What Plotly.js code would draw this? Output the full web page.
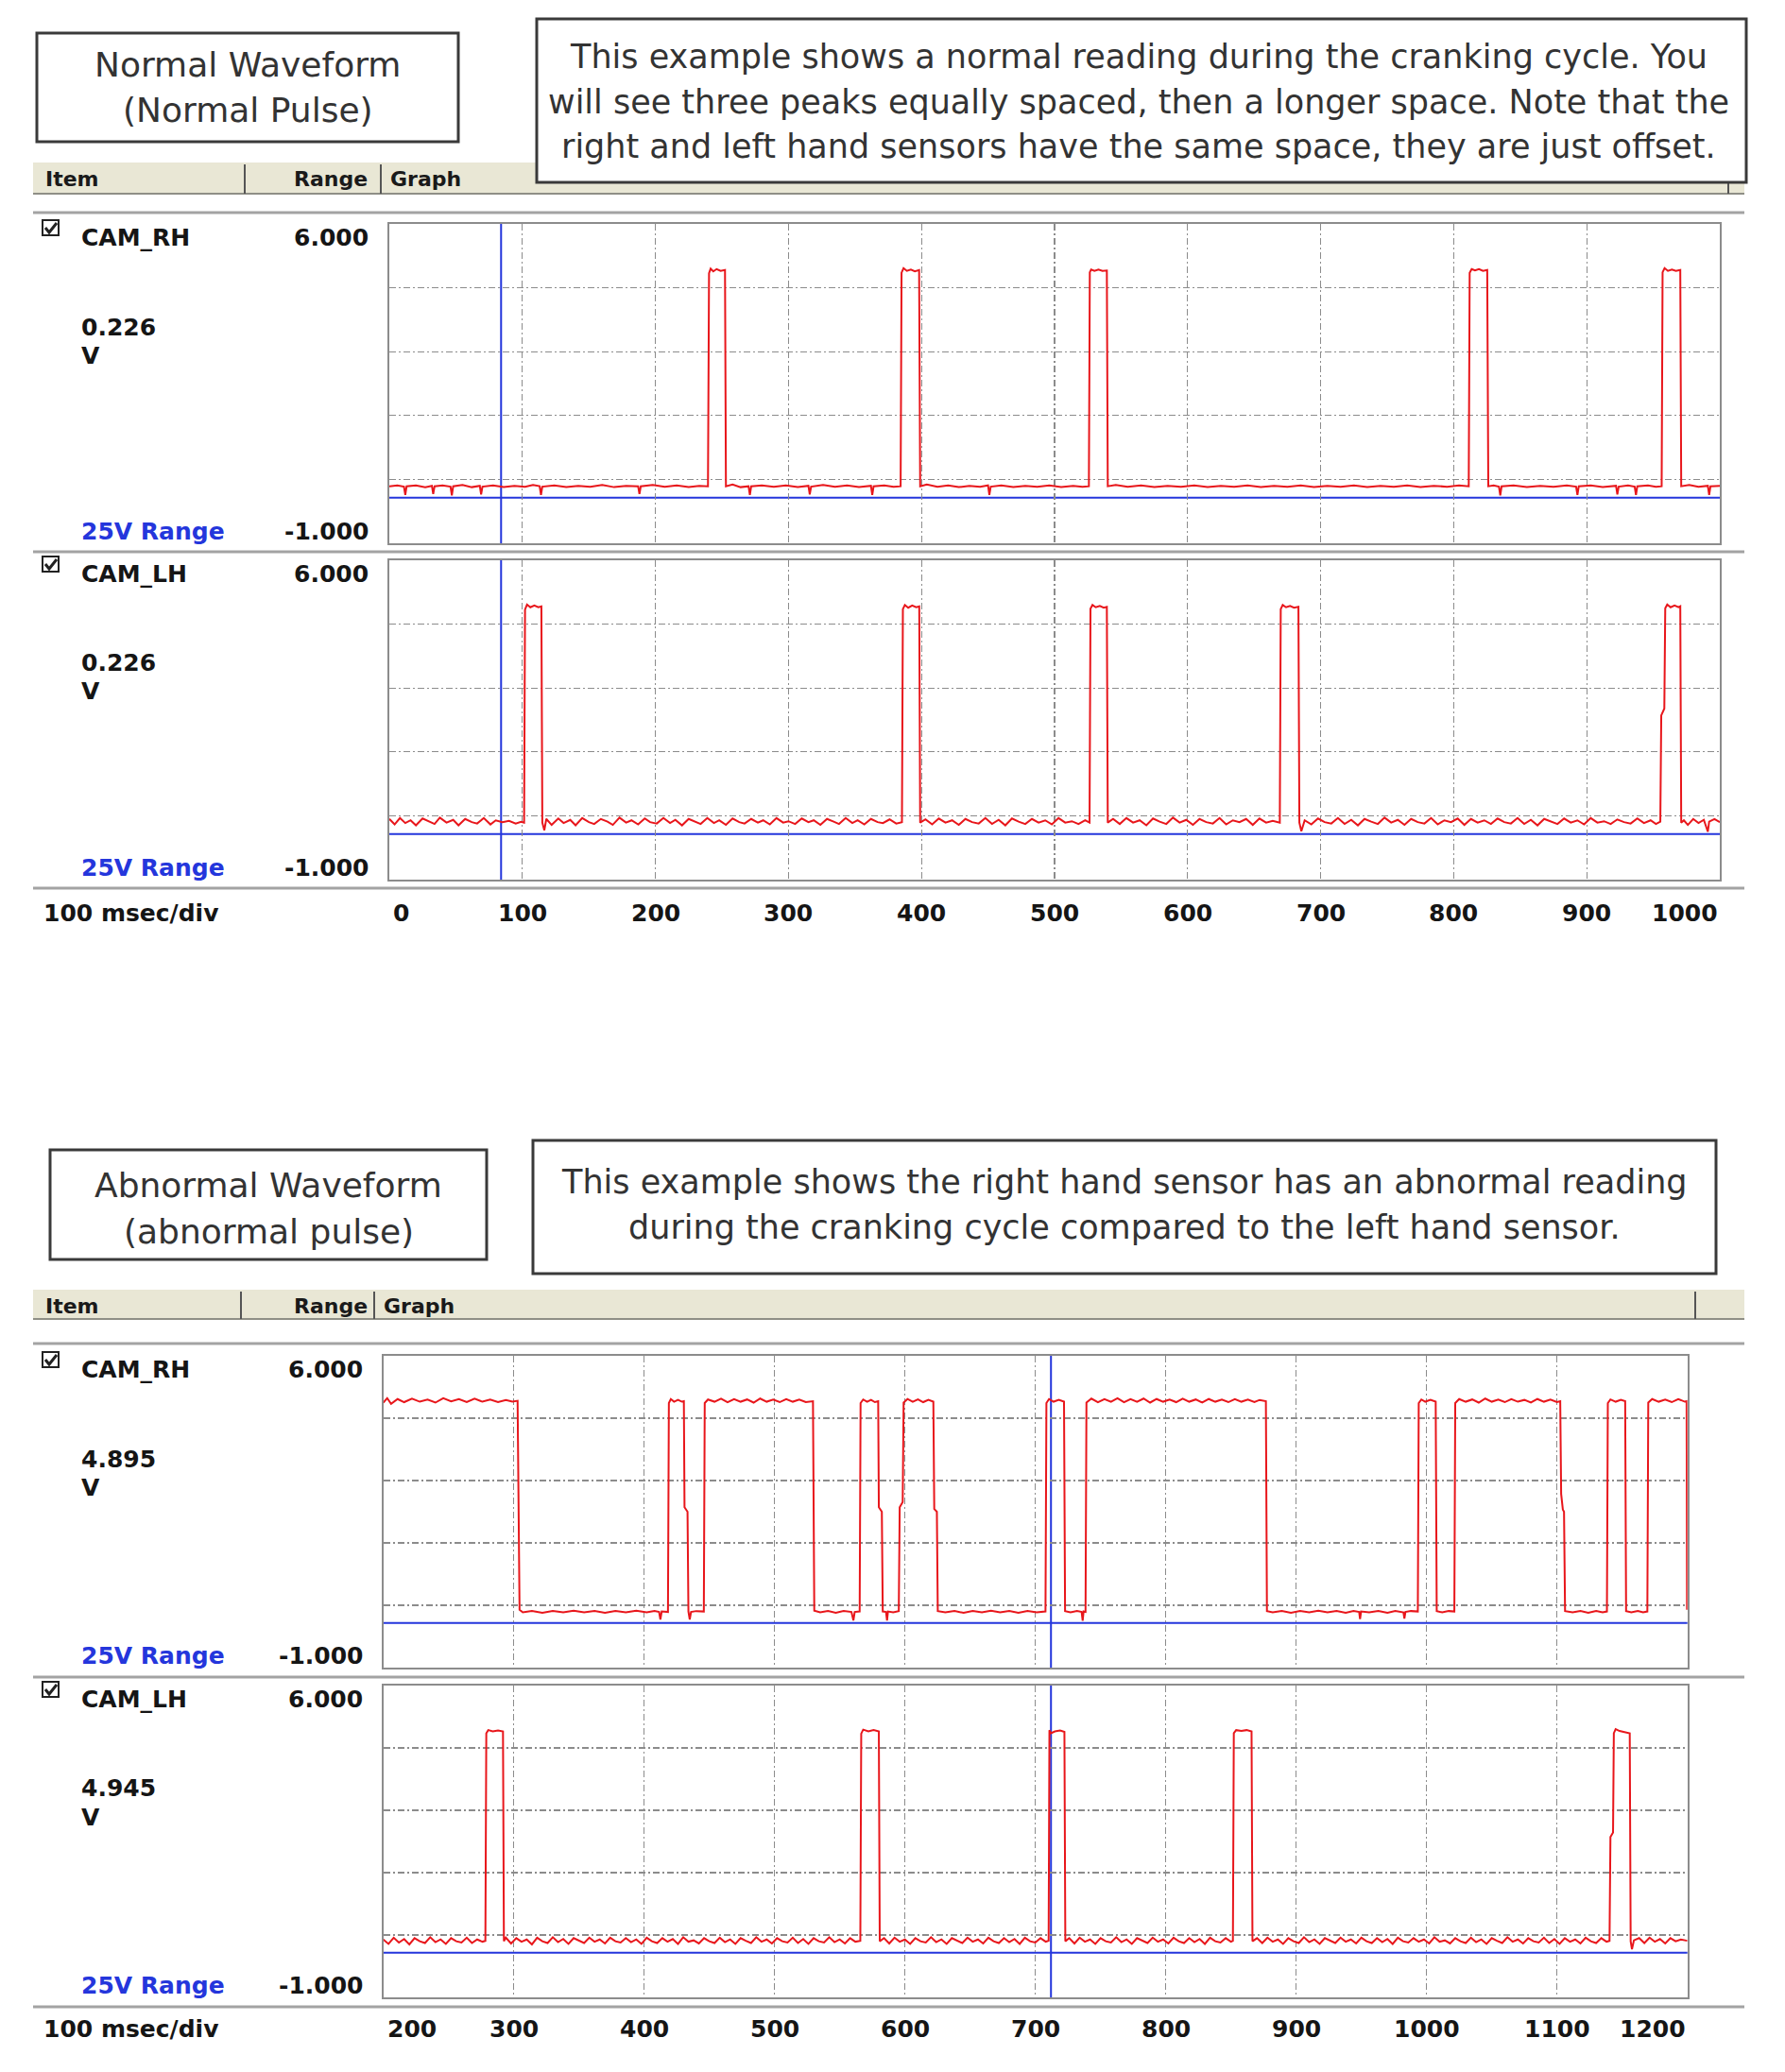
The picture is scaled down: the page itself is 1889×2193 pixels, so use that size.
<!DOCTYPE html>
<html><head><meta charset="utf-8">
<script src="https://cdn.plot.ly/plotly-3.0.1.min.js"></script>
<style>html,body{margin:0;padding:0;background:#fff}#chart{width:1889px;height:2193px}</style>
</head><body><div id="chart"></div>
<script>
// ---------------- DATA ----------------
const normalTicks = [0,100,200,300,400,500,600,700,800,900,1000];
const abnormalTicks = [200,300,400,500,600,700,800,900,1000,1100,1200];
const yRange = [-1, 6];
const yGrid = [0.4, 1.8, 3.2, 4.6];
const cursorNormal = 84;
const cursorAbnormal = 712;
const readings = ['0.226', '0.226', '4.895', '4.945'];
const sensorNames = ['CAM_RH', 'CAM_LH', 'CAM_RH', 'CAM_LH'];
const rangeLabel = '25V Range';
const timeBase = '100 msec/div';
const headerCols = ['Item', 'Range', 'Graph'];
const normalTitle = ['Normal Waveform', '(Normal Pulse)'];
const normalNote = ['This example shows a normal reading during the cranking cycle. You',
  'will see three peaks equally spaced, then a longer space. Note that the',
  'right and left hand sensors have the same space, they are just offset.'];
const abnormalTitle = ['Abnormal Waveform', '(abnormal pulse)'];
const abnormalNote = ['This example shows the right hand sensor has an abnormal reading',
  'during the cranking cycle compared to the left hand sensor.'];

// [time ms, volts]
const rhNormal = [[0,.25],[6,.27],[11,.24],[12,.06],[13,.25],[20,.27],[27,.23],[32,.26],[33,.08],[34,.25],[40,.27],[46,.24],[47,.05],[48,.25],[55,.28],[62,.23],[68,.26],[69,.07],[70,.24],[78,.27],[86,.23],[94,.26],[102,.24],[108,.28],[113,.25],[114,.06],[115,.24],[124,.27],[133,.23],[142,.26],[151,.24],[160,.28],[169,.23],[178,.26],[187,.25],[188,.08],[189,.25],[198,.28],[207,.24],[216,.27],[225,.23],[233,.26],[239.5,.25],
[240.3,4.92],[241.5,5.02],[243.5,4.96],[246,5.01],[249,4.97],[252.3,4.99],[253,.25],
[258,.29],[264,.23],[270,.25],[271,.06],[272,.25],[280,.27],[289,.24],[298,.27],[307,.23],[315,.26],[316,.07],[317,.24],[326,.28],[335,.24],[344,.27],[353,.23],[362,.26],[363,.06],[364,.25],[372,.27],[379,.24],[384.3,.25],
[385,4.93],[386.5,5.03],[389,4.97],[392,5.0],[395,4.96],[398.2,4.99],[399,.25],
[404,.29],[412,.24],[420,.27],[428,.23],[436,.26],[444,.24],[450,.27],[451,.06],[452,.24],[460,.27],[469,.23],[478,.26],[487,.24],[496,.27],[505,.23],[514,.26],[521,.24],[525.8,.25],
[526.5,4.94],[527.5,5.0],[530,4.97],[533,5.0],[536,4.97],[539.3,4.98],[540,.25],
[546,.28],[555,.24],[565,.27],[575,.23],[585,.26],[595,.24],[605,.27],[615,.23],[625,.26],[635,.24],[645,.27],[655,.23],[665,.26],[675,.24],[685,.27],[695,.23],[705,.26],[715,.24],[725,.27],[735,.23],[745,.26],[755,.24],[765,.27],[775,.23],[785,.26],[795,.24],[804,.27],[811.3,.25],
[812,4.93],[813.5,5.01],[816,4.98],[819,5.01],[822,4.97],[825.2,4.99],[826,.25],
[830,.27],[834,.24],[835,.05],[836,.25],[845,.27],[855,.23],[865,.26],[875,.24],[885,.27],[892,.24],[893,.06],[894,.25],[903,.27],[912,.23],[922,.26],[923,.07],[924,.24],[931,.27],[936,.24],[937,.06],[938,.25],[946,.27],[952,.24],[956.3,.25],
[957,4.94],[958.5,5.03],[961,4.97],[964,5.0],[967,4.97],[970.3,4.99],[971,.25],
[977,.28],[984,.24],[991,.26],[992,.06],[993,.25],[1000,.26]];

const lhNormal = [[0,.33],[4,.21],[8,.35],[12,.24],[16,.3],[20,.19],[25,.34],[30,.27],[34,.22],[38,.36],[43,.25],[48,.31],[52,.19],[57,.33],[62,.26],[66,.23],[71,.35],[76,.21],[80,.3],[85,.26],[90,.29],[95,.23],[99,.27],[101.3,.25],
[102,4.92],[103.5,5.03],[106,4.97],[109,5.01],[112,4.97],[114.3,4.99],[115,.25],
[116.5,.08],[118,.33],[122,.2],[127,.34],[131,.24],[136,.31],[140,.19],[145,.35],[150,.26],[154,.22],[159,.33],[164,.27],[168,.2],[173,.36],[178,.25],[182,.3],[187,.21],[192,.34],[196,.26],[201,.23],[206,.35],[211,.24],[215,.31],[220,.19],[225,.33],[230,.27],[234,.22],[239,.35],[244,.24],[248,.3],[253,.2],[258,.34],[263,.26],[267,.23],[272,.33],[277,.25],[281,.3],[286,.21],[291,.35],[296,.25],[300,.28],[305,.22],[310,.34],[315,.26],[319,.3],[324,.2],[329,.33],[334,.27],[338,.22],[343,.35],[348,.24],[352,.3],[357,.21],[362,.33],[367,.26],[371,.24],[376,.32],[381,.23],[385.3,.26],
[386,4.93],[387.5,5.02],[390,4.96],[393,5.01],[396,4.97],[398.3,4.99],[399,.25],
[403,.32],[408,.21],[413,.34],[418,.25],[423,.3],[428,.2],[433,.33],[438,.26],[443,.23],[448,.35],[453,.22],[458,.31],[463,.19],[468,.34],[473,.27],[478,.22],[483,.33],[488,.25],[493,.3],[498,.21],[503,.35],[508,.25],[513,.28],[518,.22],[523,.3],[526.3,.25],
[527,4.94],[528.5,5.02],[531,4.97],[534,5.0],[537,4.96],[539.3,4.98],[540,.25],
[544,.33],[549,.22],[554,.35],[559,.25],[564,.3],[569,.19],[574,.34],[579,.27],[584,.22],[589,.36],[594,.25],[599,.31],[604,.2],[609,.33],[614,.26],[619,.23],[624,.35],[629,.21],[634,.3],[639,.26],[644,.33],[649,.2],[654,.34],[659,.25],[664,.29],[669.3,.25],
[670,4.93],[671.5,5.02],[674,4.97],[677,5.0],[680,4.96],[683.3,4.98],[684,.25],
[685.5,.06],[688,.3],[693,.21],[698,.34],[703,.26],[708,.23],[713,.35],[718,.22],[723,.31],[728,.19],[733,.33],[738,.27],[743,.22],[748,.36],[753,.25],[758,.31],[763,.2],[768,.33],[773,.26],[778,.23],[783,.35],[788,.21],[793,.3],[798,.26],[803,.34],[808,.2],[813,.33],[818,.25],[823,.3],[828,.22],[833,.34],[838,.26],[843,.23],[848,.35],[853,.22],[858,.31],[863,.19],[868,.33],[873,.27],[878,.22],[883,.34],[888,.25],[893,.3],[898,.21],[903,.35],[908,.25],[913,.28],[918,.22],[923,.32],[928,.26],[933,.23],[938,.34],[943,.24],[948,.3],[952,.22],[955.3,.27],
[956,2.6],[958.3,2.75],[959,4.95],[960.5,5.03],[963,4.97],[966,5.01],[969,4.97],[970.3,4.99],[971,.25],
[973,.3],[976,.2],[980,.33],[984,.24],[988,.31],[991,.05],[992,.27],[996,.33],[1000,.26]];

const rhAbnormal = [[200,4.95],[203,5.05],[206,4.92],[211,5.03],[216,4.96],[222,5.04],[228,4.97],[234,5.02],[240,4.95],[246,5.05],[252,4.98],[258,5.03],[264,4.96],[270,5.04],[276,4.97],[282,5.02],[288,4.96],[294,5.01],[299,4.97],[303,4.99],
[304.5,.3],[307,.24],[314,.27],[322,.23],[330,.27],[338,.24],[346,.28],[354,.24],[362,.27],[370,.23],[378,.27],[386,.24],[394,.28],[402,.24],[408,.27],[411.5,.25],[412.5,.08],[413.5,.26],[418.3,.25],
[419,4.94],[420.5,5.03],[423,4.97],[426,5.01],[429,4.97],[430.5,4.98],
[431,2.6],[433.3,2.5],[434,.26],[435,.08],[436,.25],[440,.27],[445.8,.26],
[446.5,4.94],[449,5.02],[454,4.97],[459,5.04],[464,4.96],[469,5.03],[474,4.97],[479,5.02],[484,4.95],[489,5.04],[494,4.97],[499,5.02],[504,4.96],[509,5.03],[514,4.97],[519,5.02],[524,4.96],[529.5,4.98],
[530.5,.28],[535,.24],[541,.27],[547,.23],[553,.27],[559,.25],[560.5,.06],[561.5,.25],[565.3,.26],
[566,4.94],[568,5.02],[571,4.97],[574,5.01],[577,4.96],[579.5,4.98],
[580,2.6],[582.3,2.5],[583,.26],[585.5,.25],[586.3,.06],[587,.26],[591,.24],[595.3,.27],
[596,2.6],[598.3,2.72],[599,4.95],[602,5.03],[606,4.97],[610,5.02],[614,4.96],[618,5.01],[621.8,4.97],
[622.5,2.56],[624.5,2.5],[625.2,.27],[631,.24],[638,.27],[645,.23],[652,.27],[659,.24],[666,.28],[673,.24],[680,.27],[687,.23],[694,.27],[701,.24],[707.8,.26],
[708.5,4.94],[710.5,5.03],[714,4.97],[718,5.01],[722,4.97],
[722.8,.27],[727,.24],[732,.27],[735.5,.25],[736.3,.05],[737,.26],[738.5,.25],
[739.2,4.95],[743,5.04],[748,4.96],[753,5.03],[758,4.97],[763,5.05],[768,4.96],[773,5.03],[778,4.97],[783,5.04],[788,4.95],[793,5.03],[798,4.97],[803,5.02],[808,4.96],[813,5.04],[818,4.97],[823,5.02],[828,4.95],[833,5.03],[838,4.97],[843,5.02],[848,4.96],[853,5.03],[858,4.97],[863,5.02],[868,4.96],[872,5.01],[876.8,4.98],
[877.6,.27],[882,.24],[889,.27],[896,.23],[903,.27],[910,.24],[917,.28],[924,.24],[931,.27],[938,.23],[944,.27],[948.3,.25],[949,.09],[949.8,.26],[956,.24],[963,.27],[970,.23],[976,.27],[982.3,.24],[983,.1],[983.8,.25],[988,.27],[993.3,.26],
[994,4.94],[996,5.02],[999,4.97],[1003,5.01],[1007,4.97],
[1007.8,.27],[1012,.24],[1017,.27],[1021.3,.26],
[1022,4.94],[1025,5.03],[1030,4.97],[1035,5.02],[1040,4.95],[1045,5.04],[1050,4.97],[1055,5.02],[1060,4.96],[1065,5.03],[1070,4.97],[1075,5.01],[1080,4.95],[1085,5.03],[1090,4.97],[1095,5.02],[1100,4.96],[1102.5,4.98],
[1103.2,2.9],[1104.5,2.55],[1105.4,2.5],[1106.2,.27],[1112,.24],[1118,.27],[1124,.23],[1130,.27],[1135,.24],[1138.3,.26],
[1139,4.94],[1141,5.02],[1145,4.97],[1149,5.01],[1152.3,4.98],
[1153,.27],[1157,.24],[1162,.27],[1166,.24],[1169.3,.26],
[1170,4.95],[1173,5.03],[1178,4.97],[1183,5.02],[1188,4.96],[1193,5.03],[1198,4.97],[1199.4,4.98],
[1199.7,.3]];

const lhAbnormal = [[200,.3],[204,.2],[208,.34],[212,.23],[216,.31],[220,.19],[224,.33],[228,.26],[232,.22],[236,.35],[240,.24],[244,.3],[248,.2],[252,.33],[256,.26],[260,.23],[264,.34],[268,.22],[272,.3],[276,.25],[278.3,.27],
[279,4.93],[280.5,5.0],[284,4.97],[288,4.99],[291.8,4.97],
[292.5,.26],[294,.34],[298,.21],[302,.33],[306,.25],[310,.3],[314,.19],[318,.34],[322,.26],[326,.22],[330,.35],[334,.24],[338,.31],[342,.2],[346,.33],[350,.27],[354,.22],[358,.34],[362,.25],[366,.3],[370,.21],[374,.34],[378,.26],[382,.23],[386,.33],[390,.24],[394,.3],[398,.2],[402,.34],[406,.26],[410,.22],[414,.33],[418,.25],[422,.31],[426,.2],[430,.35],[434,.25],[438,.28],[442,.21],[446,.33],[450,.26],[454,.22],[458,.34],[462,.24],[466,.3],[470,.2],[474,.33],[478,.27],[482,.22],[486,.35],[490,.25],[494,.3],[498,.21],[502,.33],[506,.26],[510,.23],[514,.34],[518,.22],[522,.31],[526,.2],[530,.33],[534,.26],[538,.23],[542,.35],[546,.24],[550,.3],[554,.21],[558,.33],[562,.25],[565.8,.27],
[566.5,4.92],[568,5.01],[572,4.97],[576,5.0],[580,4.97],
[580.7,.26],[584,.33],[588,.21],[592,.34],[596,.25],[600,.3],[604,.2],[608,.33],[612,.26],[616,.23],[620,.35],[624,.24],[628,.3],[632,.2],[636,.33],[640,.27],[644,.22],[648,.34],[652,.25],[656,.3],[660,.21],[664,.34],[668,.26],[672,.22],[676,.33],[680,.24],[684,.31],[688,.2],[692,.34],[696,.26],[700,.23],[704,.33],[708,.25],[710.2,.27],
[710.8,5.0],[712,4.93],[715,4.97],[719,4.99],[722.3,4.96],
[723,.26],[726,.33],[730,.21],[734,.34],[738,.25],[742,.3],[746,.2],[750,.33],[754,.26],[758,.23],[762,.35],[766,.24],[770,.3],[774,.2],[778,.33],[782,.27],[786,.22],[790,.34],[794,.25],[798,.3],[802,.21],[806,.34],[810,.26],[814,.22],[818,.33],[822,.24],[826,.31],[830,.2],[834,.34],[838,.26],[842,.23],[846,.33],[850,.25],[851.5,.27],
[852.2,4.93],[854,5.0],[858,4.98],[862,5.0],[865.8,4.97],
[866.5,.26],[870,.33],[874,.22],[878,.34],[882,.25],[886,.3],[890,.2],[894,.33],[898,.26],[902,.22],[906,.35],[910,.24],[914,.3],[918,.2],[922,.33],[926,.27],[930,.22],[934,.34],[938,.25],[942,.3],[946,.21],[950,.34],[954,.26],[958,.22],[962,.33],[966,.24],[970,.31],[974,.2],[978,.34],[982,.26],[986,.23],[990,.33],[994,.25],[998,.3],[1002,.21],[1006,.35],[1010,.25],[1014,.28],[1018,.21],[1022,.33],[1026,.26],[1030,.22],[1034,.34],[1038,.24],[1042,.3],[1046,.2],[1050,.33],[1054,.27],[1058,.22],[1062,.35],[1066,.25],[1070,.3],[1074,.21],[1078,.33],[1082,.26],[1086,.23],[1090,.34],[1094,.22],[1098,.31],[1102,.2],[1106,.33],[1110,.25],[1114,.3],[1118,.21],[1122,.34],[1126,.26],[1130,.22],[1134,.33],[1138,.25],[1140.3,.27],
[1141,2.6],[1143,2.7],[1143.6,4.93],[1145,5.02],[1148,4.98],[1151,4.96],[1154,4.94],[1155.8,4.93],
[1156.5,.26],[1157.5,.08],[1159,.28],[1163,.33],[1167,.22],[1171,.34],[1175,.25],[1179,.31],[1183,.21],[1187,.33],[1191,.26],[1195,.3],[1200,.27]];

// ---------------- LAYOUT HELPERS ----------------
const W = 1889, H = 2193;
const X = p => p / W;
const Y = p => 1 - p / H;
const RED = '#e8161b', BLUE = '#2436dc', GRID = '#8c8c8c', SEP = '#a3a3a3';
const descFont = {family: 'DejaVu Sans', size: 35, color: '#333333'};
const titleFont = {family: 'DejaVu Sans', size: 36, color: '#333333'};
const toolFont = {family: 'DejaVu Sans', size: 25, color: '#151515', weight: 700};
const headFont = {family: 'DejaVu Sans', size: 22, color: '#1a1a1a', weight: 700};

const panels = [
  {data: rhNormal,   top: 237,  bot: 575,  left: 412,   right: 1820,   xr: [0, 1000],   cursor: cursorNormal,   lblRight: 392},
  {data: lhNormal,   top: 593,  bot: 931,  left: 412,   right: 1820,   xr: [0, 1000],   cursor: cursorNormal,   lblRight: 392},
  {data: rhAbnormal, top: 1435, bot: 1765, left: 405.6, right: 1785.7, xr: [200, 1200], cursor: cursorAbnormal, lblRight: 386},
  {data: lhAbnormal, top: 1784, bot: 2114, left: 405.6, right: 1785.7, xr: [200, 1200], cursor: cursorAbnormal, lblRight: 386}
];

const traces = [];
const shapes = [];
const annotations = [];
const layout = {
  width: W, height: H, margin: {l: 0, r: 0, t: 0, b: 0},
  paper_bgcolor: '#ffffff', plot_bgcolor: '#ffffff', showlegend: false,
  shapes: shapes, annotations: annotations
};

function rectPx(x0, y0, x1, y1, fill, lineColor, lineWidth) {
  shapes.push({type: 'rect', xref: 'paper', yref: 'paper', x0: X(x0), x1: X(x1), y0: Y(y1), y1: Y(y0),
    fillcolor: fill, line: {color: lineColor || 'rgba(0,0,0,0)', width: lineWidth || 0}, layer: 'above'});
}
function linePx(x0, y0, x1, y1, color, width) {
  shapes.push({type: 'line', xref: 'paper', yref: 'paper', x0: X(x0), x1: X(x1), y0: Y(y0), y1: Y(y1),
    line: {color: color, width: width}, layer: 'above'});
}
function textPx(text, x, y, font, xanchor) {
  annotations.push({text: text, x: X(x), y: Y(y), xref: 'paper', yref: 'paper', showarrow: false,
    xanchor: xanchor || 'left', yanchor: 'middle', font: font});
}

panels.forEach((p, i) => {
  const n = i === 0 ? '' : String(i + 1);
  traces.push({
    type: 'scatter', mode: 'lines', x: p.data.map(d => d[0]), y: p.data.map(d => d[1]),
    xaxis: 'x' + n, yaxis: 'y' + n, line: {color: RED, width: 2}, hoverinfo: 'skip'
  });
  layout['xaxis' + n] = {
    domain: [X(p.left), X(p.right)], range: p.xr, anchor: 'y' + n,
    showline: true, mirror: true, linecolor: GRID, linewidth: 2,
    showgrid: true, gridcolor: GRID, gridwidth: 1.3, griddash: '7px,3px,2px,3px',
    tickmode: 'linear', tick0: p.xr[0], dtick: 100, showticklabels: false, ticks: '', zeroline: false
  };
  layout['yaxis' + n] = {
    domain: [Y(p.bot), Y(p.top)], range: yRange, anchor: 'x' + n,
    showline: true, mirror: true, linecolor: GRID, linewidth: 2,
    showgrid: true, gridcolor: GRID, gridwidth: 1.3, griddash: '7px,3px,2px,3px',
    tickmode: 'array', tickvals: yGrid, showticklabels: false, ticks: '', zeroline: false
  };
  // zero reference line and cursor
  shapes.push({type: 'line', xref: 'x' + n + ' domain', x0: 0, x1: 1, yref: 'y' + n, y0: 0, y1: 0,
    line: {color: BLUE, width: 2}, layer: 'below'});
  shapes.push({type: 'line', xref: 'x' + n, x0: p.cursor, x1: p.cursor, yref: 'y' + n + ' domain', y0: 0, y1: 1,
    line: {color: BLUE, width: 2}, layer: 'below'});
  // left column labels
  rectPx(45, p.top - 4, 62, p.top + 12, '#ffffff', '#222222', 2);
  shapes.push({type: 'path', xref: 'paper', yref: 'paper', layer: 'above',
    path: `M ${X(48)},${Y(p.top + 4)} L ${X(52)},${Y(p.top + 9)} L ${X(60)},${Y(p.top - 1)}`,
    line: {color: '#222222', width: 3}});
  textPx(sensorNames[i], 84, p.top + 14, toolFont);
  textPx(yRange[1].toFixed(3), p.lblRight, p.top + 14, toolFont, 'right');
  textPx(readings[i], 84, p.top + 109, toolFont);
  textPx('V', 84, p.top + 139, toolFont);
  textPx(rangeLabel, 84, p.bot - 13, Object.assign({}, toolFont, {color: BLUE}));
  textPx(yRange[0].toFixed(3), p.lblRight, p.bot - 13, toolFont, 'right');
});

// tick labels under the lower panel of each section
function tickLabels(ticks, axis, yPx) {
  ticks.forEach((t, k) => {
    annotations.push({text: String(t), x: t, xref: axis, y: Y(yPx), yref: 'paper', showarrow: false,
      xanchor: k === 0 ? 'left' : (k === ticks.length - 1 ? 'right' : 'center'),
      xshift: k === 0 ? 2 : 0, yanchor: 'middle', font: toolFont});
  });
}
tickLabels(normalTicks, 'x2', 966);
tickLabels(abnormalTicks, 'x4', 2147);
textPx(timeBase, 44, 966, toolFont);
textPx(timeBase, 44, 2147, toolFont);

// section chrome
function section(barTop, barBot, sep1, sep2, sep3, lines) {
  rectPx(35, barTop, 1846, barBot, '#e9e7d5');
  linePx(35, barBot - 1, 1846, barBot - 1, '#8f8f86', 2);
  [sep1, sep2, sep3].forEach(s => linePx(s, barTop + 2, s, barBot - 1, '#555555', 2));
  lines.forEach(y => linePx(35, y, 1846, y, SEP, 3));
  const mid = (barTop + barBot) / 2 + 1;
  textPx(headerCols[0], 46, mid, headFont);
  textPx(headerCols[1], 391, mid, headFont, 'right');
  textPx(headerCols[2], sep2 + 8, mid, headFont);
}
section(172, 206, 259, 403, 1829, [225, 584, 940]);
section(1365, 1397, 255, 396, 1794, [1422, 1775, 2124]);

// description boxes
rectPx(39, 35, 485, 150, '#ffffff', '#3a3a3a', 3);
rectPx(568, 20, 1848, 193, '#ffffff', '#3a3a3a', 3);
rectPx(53, 1217, 515, 1333, '#ffffff', '#3a3a3a', 3);
rectPx(564, 1207, 1816, 1348, '#ffffff', '#3a3a3a', 3);
normalTitle.forEach((t, k) => textPx(t, 262, [69, 117][k], titleFont, 'center'));
normalNote.forEach((t, k) => textPx(t, 1205, [60, 108, 155][k], descFont, 'center'));
abnormalTitle.forEach((t, k) => textPx(t, 284, [1254, 1303][k], titleFont, 'center'));
abnormalNote.forEach((t, k) => textPx(t, 1190, [1251, 1299][k], descFont, 'center'));

Plotly.newPlot('chart', traces, layout, {displayModeBar: false, staticPlot: true});
</script>
</body></html>
